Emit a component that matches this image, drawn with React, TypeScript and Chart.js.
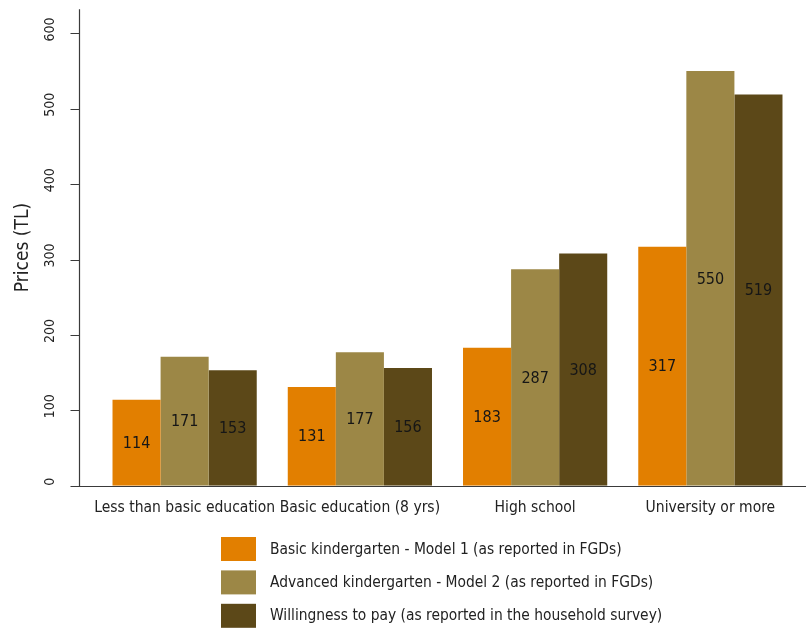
import React, { useEffect, useRef } from 'react';
import { Chart, registerables } from 'chart.js';

Chart.register(...registerables);

// Education level of the household head
const categories = [
  'Less than basic education',
  'Basic education (8 yrs)',
  'High school',
  'University or more',
];

// Monthly prices in TL
const basicModel1 = [114, 131, 183, 317];
const advancedModel2 = [171, 177, 287, 550];
const willingnessToPay = [153, 156, 308, 519];

const seriesLabels = [
  'Basic kindergarten - Model 1 (as reported in FGDs)',
  'Advanced kindergarten - Model 2 (as reported in FGDs)',
  'Willingness to pay (as reported in the household survey)',
];
const seriesColors = ['#E27F00', '#9C8746', '#5C4818'];

const yTickValues = [0, 100, 200, 300, 400, 500, 600];
const yMax = 632;

const FONT = "'DejaVu Sans Condensed', 'Liberation Sans Narrow', sans-serif";
const TEXT = '#222222';
const AXIS_GAP = 17.6; // distance between the y axis line and the first category slot

// Axis lines and y tick marks, drawn slightly left of the plotting area
const axisLinesPlugin = {
  id: 'axisLines',
  afterDatasetsDraw(chart: any) {
    const { ctx, chartArea, scales } = chart;
    const y = scales.y;
    const ax = Math.round(chartArea.left - AXIS_GAP) + 0.5;
    const base = Math.round(chartArea.bottom) + 0.5;
    ctx.save();
    ctx.strokeStyle = '#3a3a3a';
    ctx.lineWidth = 1.2;
    ctx.beginPath();
    ctx.moveTo(ax, chartArea.top);
    ctx.lineTo(ax, base);
    ctx.lineTo(chart.width, base);
    y.ticks.forEach((t: any) => {
      const py = Math.round(y.getPixelForValue(t.value)) + 0.5;
      ctx.moveTo(ax - 9, py);
      ctx.lineTo(ax, py);
    });
    ctx.stroke();
    ctx.restore();
  },
};

// Value written in the middle of each bar
const barValuesPlugin = {
  id: 'barValues',
  afterDatasetsDraw(chart: any) {
    const { ctx } = chart;
    ctx.save();
    ctx.font = `16px ${FONT}`;
    ctx.fillStyle = '#161616';
    ctx.textAlign = 'center';
    ctx.textBaseline = 'middle';
    chart.data.datasets.forEach((ds: any, di: number) => {
      const meta = chart.getDatasetMeta(di);
      meta.data.forEach((el: any, i: number) => {
        const v = ds.data[i];
        ctx.fillText(String(v), el.x, (el.y + el.base) / 2 + 1);
      });
    });
    ctx.restore();
  },
};

// Legend stacked in a single column below the axis
const columnLegendPlugin = {
  id: 'columnLegend',
  afterDraw(chart: any) {
    const { ctx } = chart;
    const left = 221;
    const top = 537;
    const rowStep = 33.4;
    const boxW = 35;
    const boxH = 24;
    ctx.save();
    ctx.font = `15.4px ${FONT}`;
    ctx.textAlign = 'left';
    ctx.textBaseline = 'middle';
    chart.data.datasets.forEach((ds: any, i: number) => {
      const by = top + i * rowStep;
      ctx.fillStyle = ds.backgroundColor;
      ctx.fillRect(left, by, boxW, boxH);
      ctx.fillStyle = TEXT;
      ctx.fillText(ds.label, left + boxW + 14, by + boxH / 2 + 0.5);
    });
    ctx.restore();
  },
};

export default function App() {
  const canvasRef = useRef<HTMLCanvasElement | null>(null);

  useEffect(() => {
    if (!canvasRef.current) return;
    const series = [basicModel1, advancedModel2, willingnessToPay];
    const chart = new Chart(canvasRef.current, {
      type: 'bar',
      data: {
        labels: categories,
        datasets: series.map((values, i) => ({
          label: seriesLabels[i],
          data: values,
          backgroundColor: seriesColors[i],
          borderWidth: 0,
          categoryPercentage: 0.823,
          barPercentage: 1,
        })),
      },
      options: {
        responsive: false,
        animation: false,
        layout: { padding: { top: 9.3, right: 8, bottom: 100, left: 0 } },
        plugins: {
          legend: { display: false },
          tooltip: { enabled: false },
        },
        scales: {
          x: {
            type: 'category',
            grid: { display: false },
            border: { display: false },
            ticks: {
              color: TEXT,
              font: { family: FONT, size: 15.5 },
              padding: 5,
              maxRotation: 0,
              autoSkip: false,
            },
            afterFit(scale: any) {
              scale.height = 44.3;
              scale.paddingLeft = 0;
              scale.paddingRight = 0;
            },
          },
          y: {
            type: 'linear',
            min: 0,
            max: yMax,
            grid: { display: false },
            border: { display: false },
            afterBuildTicks(scale: any) {
              scale.ticks = yTickValues.map((v) => ({ value: v }));
            },
            ticks: {
              color: TEXT,
              font: { family: FONT, size: 14 },
              minRotation: 90,
              maxRotation: 90,
              crossAlign: 'center',
              padding: 27,
              labelOffset: -4,
              includeBounds: false,
            },
            title: {
              display: true,
              text: 'Prices (TL)',
              color: TEXT,
              font: { family: FONT, size: 19 },
              padding: { top: 11.5, bottom: 0 },
            },
            afterFit(scale: any) {
              scale.width = 97;
              scale.paddingTop = 0;
              scale.paddingBottom = 0;
            },
          },
        },
      },
      plugins: [axisLinesPlugin, barValuesPlugin, columnLegendPlugin],
    } as any);
    return () => chart.destroy();
  }, []);

  return (
    <div style={{ position: 'absolute', left: 0, top: 0, width: 806, height: 630, background: '#fff' }}>
      <canvas ref={canvasRef} width={806} height={630} style={{ display: 'block', width: 806, height: 630 }} />
    </div>
  );
}
